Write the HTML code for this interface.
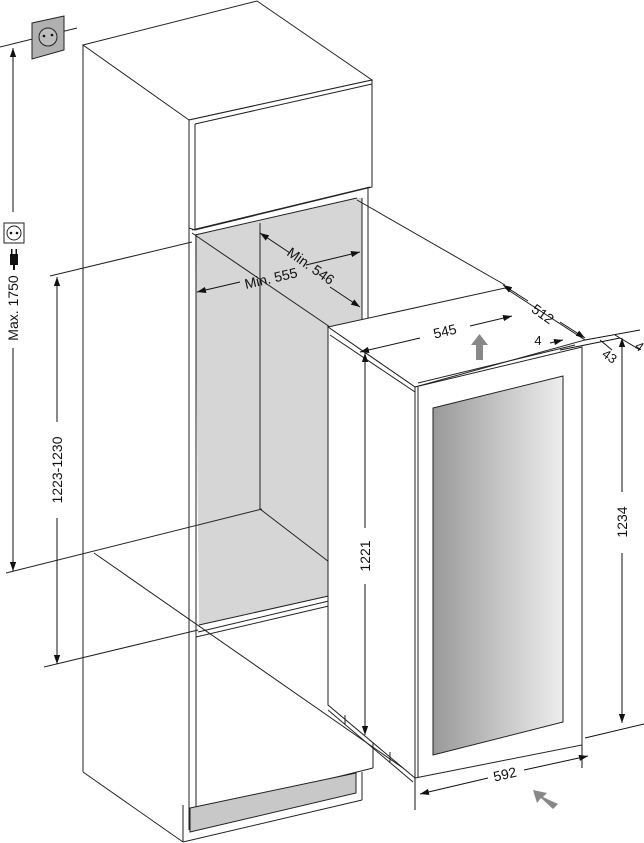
<!DOCTYPE html>
<html><head><meta charset="utf-8"><style>
html,body{margin:0;padding:0;background:#fff}
svg{display:block}
text{font-family:"Liberation Sans",sans-serif;fill:#111}
</style></head><body>
<svg width="644" height="843" viewBox="0 0 644 843" xmlns="http://www.w3.org/2000/svg">
<defs>
<linearGradient id="g" x1="0" x2="1" y1="0" y2="0">
<stop offset="0" stop-color="#999"/><stop offset="1" stop-color="#eee"/>
</linearGradient>
<marker id="a" viewBox="0 0 10 10" refX="10" refY="5" markerWidth="9" markerHeight="9" orient="auto-start-reverse" markerUnits="userSpaceOnUse">
<path d="M0,1.5 L10,5 L0,8.5Z" fill="#111"/></marker>
</defs>
<g stroke="#222" stroke-width="1" fill="none">
<polygon points="83,45 257,1 372,80 189,120" fill="#fff"/>
<polygon points="189,120 372,80 372,187 195,230 189,228" fill="#fff"/>
<line x1="195" y1="124" x2="372" y2="84"/>
<line x1="195" y1="124" x2="195" y2="230"/>
<line x1="83" y1="45" x2="83" y2="772"/>
<line x1="83" y1="772" x2="183" y2="842"/>
<polygon points="195,235 357,198 362,198 362,560 333,595 199,625" fill="#d6d6d6" stroke="none"/>
<line x1="192" y1="230" x2="370" y2="187"/>
<line x1="260" y1="223" x2="260" y2="509"/>
<line x1="260" y1="509" x2="333" y2="565"/>
<line x1="195" y1="235" x2="357" y2="198"/>
<line x1="362" y1="198" x2="362" y2="327"/>
<line x1="368" y1="187" x2="368" y2="325"/>
<line x1="189" y1="228" x2="189" y2="830"/>
<line x1="196" y1="235" x2="196" y2="812"/>
<line x1="199" y1="625" x2="333" y2="595"/>
<line x1="198" y1="632" x2="333" y2="600"/>
<line x1="196" y1="637" x2="333" y2="605"/>
<line x1="373" y1="732" x2="373" y2="768"/>
<line x1="196" y1="812" x2="373" y2="768"/>
<polygon points="190,808 356,773 356,793 190,832" fill="#c8c8c8"/>
<line x1="183" y1="842" x2="362" y2="800"/>
<line x1="362" y1="800" x2="362" y2="772"/>
<line x1="183" y1="805" x2="183" y2="842"/>
<line x1="94" y1="553" x2="413" y2="775"/>
<line x1="6" y1="573" x2="262" y2="509"/>
<line x1="50" y1="276" x2="192" y2="242"/>
<line x1="44" y1="667" x2="198" y2="630"/>
<line x1="192" y1="233" x2="330" y2="327"/>
<line x1="357" y1="200" x2="505" y2="285"/>
<line x1="0" y1="47" x2="77" y2="28"/>
<polygon points="328,327 505,288 585,340 415,387" fill="#fff"/>
<polygon points="328,327 415,387 415,778 328,705" fill="#fff"/>
<polygon points="415,387 582,347 582,745 415,778" fill="#fff"/>
<line x1="418" y1="387" x2="418" y2="778"/>
<line x1="330" y1="335" x2="415" y2="392"/>
<line x1="418" y1="383" x2="575" y2="345"/>
<line x1="328" y1="710" x2="413" y2="782"/>
<line x1="345" y1="715" x2="345" y2="725"/>
<line x1="390" y1="752" x2="390" y2="762"/>
<polygon points="433,408 563,376 563,722 433,755" fill="url(#g)"/>
<polygon points="32,23 64,16 64,50 32,59" fill="#b0b0b0"/>
<circle cx="48" cy="37" r="9" fill="#bdbdbd"/>
<rect x="4" y="223" width="20" height="20" fill="#fff"/>
<circle cx="14" cy="233" r="7"/>
</g>
<circle cx="44" cy="36" r="1.3" fill="#111"/><circle cx="52" cy="35" r="1.3" fill="#111"/>
<circle cx="11" cy="233" r="1.3" fill="#111"/><circle cx="17" cy="233" r="1.3" fill="#111"/>
<rect x="10" y="254" width="8" height="11" fill="#111"/><rect x="11" y="249" width="1.5" height="5" fill="#111"/><rect x="15.5" y="249" width="1.5" height="5" fill="#111"/><rect x="13" y="265" width="2" height="5" fill="#111"/>
<g stroke="#111" stroke-width="1" fill="none">
<line x1="13" y1="48" x2="13" y2="212"/><line x1="13" y1="48" x2="13" y2="50" marker-start="url(#a)"/>
<line x1="13" y1="348" x2="13" y2="571" marker-end="url(#a)"/>
<line x1="57" y1="277" x2="57" y2="422" marker-start="url(#a)"/>
<line x1="57" y1="518" x2="57" y2="664" marker-end="url(#a)"/>
<line x1="197" y1="292" x2="240" y2="282" marker-start="url(#a)"/>
<line x1="306" y1="265" x2="360" y2="252" marker-end="url(#a)"/>
<line x1="260" y1="233" x2="290" y2="253" marker-start="url(#a)"/>
<line x1="330" y1="287" x2="360" y2="307" marker-end="url(#a)"/>
<line x1="360" y1="352" x2="420" y2="338" marker-start="url(#a)"/>
<line x1="470" y1="326" x2="512" y2="316" marker-end="url(#a)"/>
<line x1="503" y1="285" x2="528" y2="301" marker-start="url(#a)"/>
<line x1="560" y1="322" x2="585" y2="338" marker-end="url(#a)"/>
<line x1="365" y1="353" x2="365" y2="528" marker-start="url(#a)"/>
<line x1="365" y1="584" x2="365" y2="735" marker-end="url(#a)"/>
<line x1="622" y1="338" x2="622" y2="492" marker-start="url(#a)"/>
<line x1="622" y1="553" x2="622" y2="723" marker-end="url(#a)"/>
<line x1="420" y1="794" x2="488" y2="778" marker-start="url(#a)"/>
<line x1="524" y1="770" x2="588" y2="756" marker-end="url(#a)"/>
<line x1="415" y1="778" x2="415" y2="810"/>
<line x1="582" y1="745" x2="582" y2="768"/>
<line x1="585" y1="738" x2="644" y2="724"/>
<line x1="585" y1="340" x2="640" y2="330"/>
<line x1="560" y1="350" x2="620" y2="338"/>
<line x1="550" y1="343" x2="563" y2="340" marker-end="url(#a)"/>
<line x1="600" y1="340" x2="612" y2="350"/>
<line x1="615" y1="335" x2="640" y2="350"/>
</g>
<polygon points="476,360 483,360 483,345 488,345 479.5,334 471,345 476,345" fill="#888"/>
<polygon points="558,804 553,809 541,798 537,803 533,790 547,793 543,797" fill="#888"/>
<text x="0" y="0" font-size="14" transform="translate(18,308) rotate(-90)" text-anchor="middle">Max. 1750</text>
<text x="0" y="0" font-size="14" transform="translate(62,470) rotate(-90)" text-anchor="middle">1223-1230</text>
<text x="0" y="0" font-size="14" transform="translate(370,556) rotate(-90)" text-anchor="middle">1221</text>
<text x="0" y="0" font-size="14" transform="translate(627,522) rotate(-90)" text-anchor="middle">1234</text>
<text x="0" y="0" font-size="14" transform="translate(272,283) rotate(-13)" text-anchor="middle">Min. 555</text>
<text x="0" y="0" font-size="14" transform="translate(308,270) rotate(35)" text-anchor="middle">Min. 546</text>
<text x="0" y="0" font-size="14" transform="translate(446,336) rotate(-13)" text-anchor="middle">545</text>
<text x="0" y="0" font-size="14" transform="translate(540,318) rotate(35)" text-anchor="middle">512</text>
<text x="0" y="0" font-size="14" transform="translate(506,779) rotate(-13)" text-anchor="middle">592</text>
<text x="538" y="345" font-size="13" text-anchor="middle">4</text>
<text x="0" y="0" font-size="13" transform="translate(607,360) rotate(35)" text-anchor="middle">43</text>
<text x="0" y="0" font-size="13" transform="translate(637,350) rotate(35)" text-anchor="middle">4</text>
</svg>
</body></html>
